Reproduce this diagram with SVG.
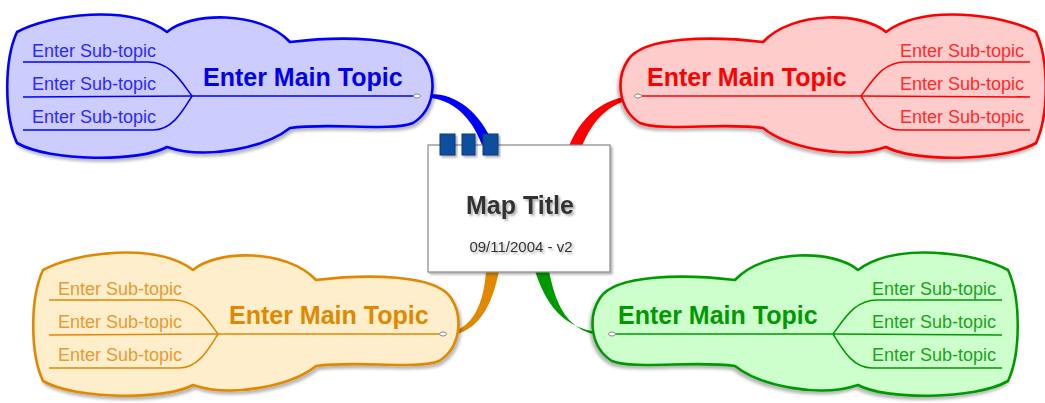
<svg xmlns="http://www.w3.org/2000/svg" xmlns:xlink="http://www.w3.org/1999/xlink" width="1045" height="403" viewBox="0 0 1045 403">
<style>
text{font-family:"Liberation Sans",Arial,sans-serif}
.main{font-size:25px;font-weight:bold}
.sub{font-size:18px}
.cloud{stroke-width:2.6;stroke-linejoin:round;filter:url(#sh)}
.br{fill:none;stroke-width:1.6}
.oval{fill:#fff;stroke:#888;stroke-width:1}
.blue .cloud{fill:#ccccff;stroke:#0000ff}.blue .br{stroke:#0000ff}.blue .main{fill:#0000ee}.blue .sub{fill:#2a2aff}
.red .cloud{fill:#ffcccc;stroke:#ff0000}.red .br{stroke:#ff0000}.red .main{fill:#ff0000}.red .sub{fill:#ff2a2a}
.orange .cloud{fill:#ffeecc;stroke:#e08800}.orange .br{stroke:#e08800}.orange .main{fill:#e08800}.orange .sub{fill:#e89a30}
.green .cloud{fill:#ccffcc;stroke:#009900}.green .br{stroke:#009900}.green .main{fill:#009900}.green .sub{fill:#1aa31a}
.tab{fill:#0b4f9e;stroke:#073a78;stroke-width:1}
</style>
<defs>
<filter id="sh" x="-5%" y="-10%" width="115%" height="130%">
<feDropShadow dx="2" dy="3" stdDeviation="1.5" flood-color="#000" flood-opacity="0.28"/>
</filter>
<filter id="tsh" x="-10%" y="-20%" width="130%" height="160%">
<feDropShadow dx="2" dy="2" stdDeviation="1" flood-color="#000" flood-opacity="0.3"/>
</filter>
<path id="cloudShape" d="M17,32 C50,14 130,4 167,32 C190,12 260,10 290,42 C340,36 410,36 425,60 C438,80 434,110 413,123 C390,132 330,122 290,128 C265,148 205,160 167,147 C140,162 50,162 17,143 C4,115 4,60 17,32 Z"/>
<g id="branches">
<path d="M23,62 H148 C170,62 180,80 192,96"/>
<path d="M23,97 L192,96"/>
<path d="M23,130 H153 C172,130 182,112 192,96"/>
<path d="M192,96 H414"/>
</g>
</defs>

<g id="connectors">
<path fill="#0000ff" d="M428,94 C456,93 479,111 494,145 L482,145 C471,116 452,99 428,98 Z"/>
<path fill="#ff0000" d="M569,146 C580,120 600,97 638,95 L638,98 C608,102 592,122 582,146 Z"/>
<path fill="#e08800" d="M486,271 C484,300 475,330 445,333 L445,336 C479,334 492,305 499,271 Z"/>
<path fill="#009900" d="M535,271 C545,300 560,332 610,333 L610,336 C565,336 555,300 549,271 Z"/>
</g>

<g id="topic-blue" class="blue">
<use xlink:href="#cloudShape" class="cloud"/>
<use xlink:href="#branches" class="br"/>
<ellipse class="oval" cx="417" cy="96" rx="3.5" ry="2"/>
<text class="main" x="203" y="86">Enter Main Topic</text>
<text class="sub" x="32" y="56.5">Enter Sub-topic</text>
<text class="sub" x="32" y="90">Enter Sub-topic</text>
<text class="sub" x="32" y="123">Enter Sub-topic</text>
</g>

<g id="topic-red" class="red">
<use xlink:href="#cloudShape" class="cloud" transform="translate(1053,0) scale(-1,1)"/>
<use xlink:href="#branches" class="br" transform="translate(1053,0) scale(-1,1)"/>
<ellipse class="oval" cx="638" cy="96" rx="3.5" ry="2"/>
<text class="main" x="647" y="86">Enter Main Topic</text>
<text class="sub" x="900" y="56.5">Enter Sub-topic</text>
<text class="sub" x="900" y="90">Enter Sub-topic</text>
<text class="sub" x="900" y="123">Enter Sub-topic</text>
</g>

<g id="topic-orange" class="orange">
<use xlink:href="#cloudShape" class="cloud" transform="translate(26,238)"/>
<use xlink:href="#branches" class="br" transform="translate(26,238)"/>
<ellipse class="oval" cx="443" cy="334" rx="3.5" ry="2"/>
<text class="main" x="229" y="324">Enter Main Topic</text>
<text class="sub" x="58" y="294.5">Enter Sub-topic</text>
<text class="sub" x="58" y="328">Enter Sub-topic</text>
<text class="sub" x="58" y="361">Enter Sub-topic</text>
</g>

<g id="topic-green" class="green">
<use xlink:href="#cloudShape" class="cloud" transform="translate(1025,238) scale(-1,1)"/>
<use xlink:href="#branches" class="br" transform="translate(1025,238) scale(-1,1)"/>
<ellipse class="oval" cx="612" cy="334" rx="3.5" ry="2"/>
<text class="main" x="618" y="324">Enter Main Topic</text>
<text class="sub" x="872" y="294.5">Enter Sub-topic</text>
<text class="sub" x="872" y="328">Enter Sub-topic</text>
<text class="sub" x="872" y="361">Enter Sub-topic</text>
</g>

<g id="map-title">
<rect x="428" y="145" width="182" height="127" fill="#fff" stroke="#888" stroke-width="1.2" filter="url(#tsh)"/>
<rect class="tab" x="440" y="134" width="15" height="21" filter="url(#tsh)"/>
<rect class="tab" x="462" y="134" width="13" height="21" filter="url(#tsh)"/>
<rect class="tab" x="483" y="134" width="15" height="21" filter="url(#tsh)"/>
<text x="520" y="214" text-anchor="middle" font-size="25" font-weight="bold" fill="#333" filter="url(#tsh)">Map Title</text>
<text x="521" y="252" text-anchor="middle" font-size="15" fill="#333" filter="url(#tsh)">09/11/2004 - v2</text>
</g>
</svg>
